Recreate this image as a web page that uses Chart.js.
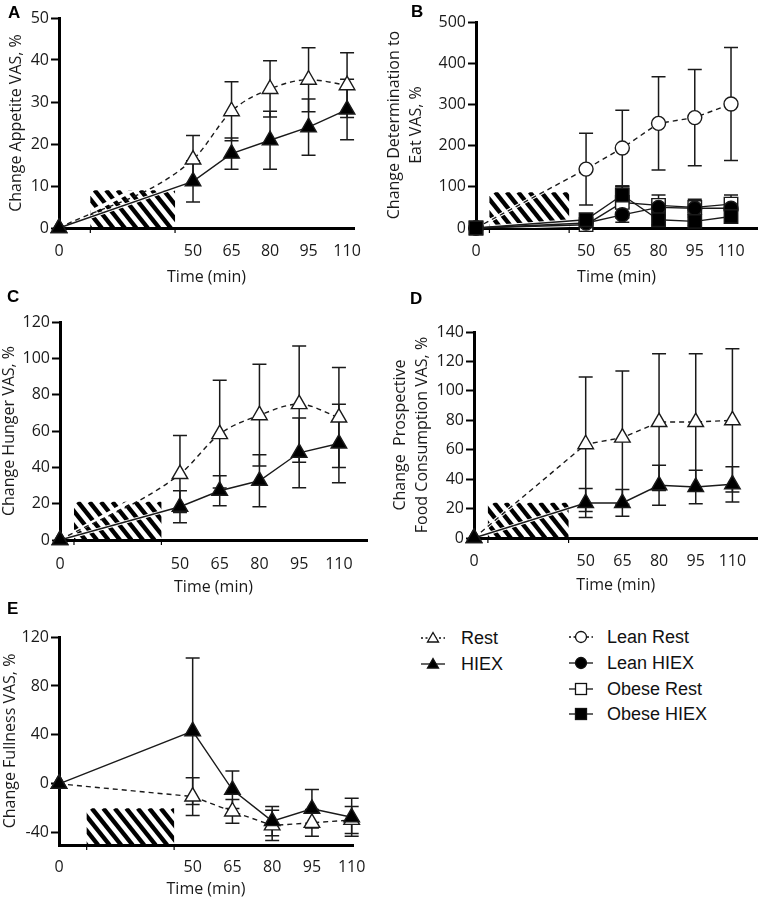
<!DOCTYPE html>
<html>
<head>
<meta charset="utf-8">
<script src="https://cdn.jsdelivr.net/npm/chart.js@4.4.1/dist/chart.umd.min.js"></script>
<style>
  body { margin: 0; background: #fff; }
  #page { position: relative; width: 768px; height: 900px; overflow: hidden; background: #fff; }
  canvas { position: absolute; }
  .letter { position: absolute; font: bold 17px "Liberation Sans", Arial, sans-serif; line-height: 1; color: #000; }
  .lg { position: absolute; height: 20px; font: 18px "Liberation Sans", Arial, sans-serif; line-height: 20px; color: #111; white-space: nowrap; }
  .lg svg { position: absolute; left: 0; top: 0; }
  .lg span { position: absolute; top: 0; }
</style>
</head>
<body>
<div id="page">
  <canvas id="cA" width="384" height="290" style="left:0;top:0"></canvas>
  <canvas id="cB" width="384" height="290" style="left:384px;top:0"></canvas>
  <canvas id="cC" width="384" height="310" style="left:0;top:290px"></canvas>
  <canvas id="cD" width="384" height="310" style="left:384px;top:290px"></canvas>
  <canvas id="cE" width="384" height="300" style="left:0;top:600px"></canvas>

  <div class="letter" style="left:8px;top:4px">A</div>
  <div class="letter" style="left:411px;top:3px">B</div>
  <div class="letter" style="left:7px;top:288px">C</div>
  <div class="letter" style="left:410px;top:290px">D</div>
  <div class="letter" style="left:7px;top:600px">E</div>

  <div id="legend"></div>
</div>

<script>
// sampling times (min)
const times = [0, 50, 65, 80, 95, 110];
// exercise period shown by the hatched box (min)
const exercise = [10, 43];

// A - appetite
const appetiteTicks = [0, 10, 20, 30, 40, 50];
const appetiteRest = [0, 16.3, 27.8, 33.1, 35.3, 34.0];
const appetiteRestErr = [0, 5.7, 7.0, 6.7, 7.6, 7.7];
const appetiteHiex = [0, 11.1, 17.7, 20.9, 24.0, 28.2];
const appetiteHiexErr = [0, 4.9, 3.7, 6.9, 6.7, 7.2];

// B - determination to eat
const determinationTicks = [0, 100, 200, 300, 400, 500];
const leanRest = [0, 143, 194, 254, 268, 301];
const leanRestErr = [0, 87, 92, 113, 117, 137];
const leanHiex = [0, 12, 32, 50, 48, 48];
const leanHiexErr = [0, 6, 18, 12, 10, 10];
const obeseRest = [0, 8, 62, 55, 50, 58];
const obeseRestErr = [0, 5, 38, 25, 20, 22];
const obeseHiex = [0, 20, 80, 20, 16, 28];
const obeseHiexErr = [0, 10, 22, 12, 10, 15];

// C - hunger
const hungerTicks = [0, 20, 40, 60, 80, 100, 120];
const hungerRest = [0, 36.3, 58.3, 68.7, 74.8, 67.4];
const hungerRestErr = [0, 21.2, 29.7, 28.0, 32.0, 27.5];
const hungerHiex = [0, 18.3, 27.1, 32.6, 48.0, 53.1];
const hungerHiexErr = [0, 8.8, 8.2, 14.3, 19.2, 21.6];

// D - prospective food consumption
const prospectiveTicks = [0, 20, 40, 60, 80, 100, 120, 140];
const prospectiveRest = [0, 63.7, 68.2, 78.8, 78.8, 80.0];
const prospectiveRestErr = [0, 45.7, 45.3, 46.5, 46.5, 48.7];
const prospectiveHiex = [0, 23.8, 23.8, 35.8, 34.7, 36.5];
const prospectiveHiexErr = [0, 9.8, 9.1, 13.6, 11.4, 12.0];

// E - fullness
const fullnessTicks = [-40, 0, 40, 80, 120];
const fullnessRest = [0, -10.4, -22.6, -34.0, -31.9, -29.5];
const fullnessRestErr = [0, 15.4, 9.7, 12.3, 10.9, 11.0];
const fullnessHiex = [0, 43.0, -4.9, -30.5, -20.4, -27.3];
const fullnessHiexErr = [0, 59.8, 15.3, 12.0, 15.8, 15.5];

const INK = '#1a1a1a';
const FONT = { family: 'Open Sans', size: 16 };

// x axis of the original is not quite linear between 0 and 50, gap shifts the later times
class GapScale extends Chart.LinearScale {
  getPixelForValue(value) {
    if (value === null || value === undefined) return NaN;
    const gap = this.options.gap || 0;
    const range = this.max - this.min + gap;
    const d = value <= this.min ? (value - this.min) / range : (value - this.min + gap) / range;
    return this.getPixelForDecimal(d);
  }
}
GapScale.id = 'gapLinear';
GapScale.defaults = Chart.LinearScale.defaults;
Chart.register(GapScale);

const hatchPlugin = {
  id: 'hatch',
  beforeDatasetsDraw(chart, args, opts) {
    const { ctx, scales: { x, y } } = chart;
    const x0 = x.getPixelForValue(opts.from), x1 = x.getPixelForValue(opts.to);
    const y0 = y.getPixelForValue(opts.top), y1 = y.getPixelForValue(y.min);
    ctx.save();
    ctx.strokeStyle = '#000';
    ctx.lineWidth = 1.2;
    [x0, x1].forEach(px => {
      ctx.beginPath(); ctx.moveTo(px, y1); ctx.lineTo(px, y1 + 5); ctx.stroke();
    });
    ctx.beginPath();
    ctx.rect(x0, y0, x1 - x0, y1 - y0);
    ctx.clip();
    ctx.lineWidth = 4.4;
    const h = y1 - y0, run = h / 1.25;
    for (let sx = x0 - run; sx < x1 + 6; sx += 11.5) {
      ctx.beginPath(); ctx.moveTo(sx, y0); ctx.lineTo(sx + run, y1); ctx.stroke();
    }
    // thin white gap where the data lines cross the stripes
    ctx.strokeStyle = '#fff';
    ctx.lineWidth = 3.4;
    chart.data.datasets.forEach((ds, i) => {
      const pts = chart.getDatasetMeta(i).data;
      if (pts.length < 2) return;
      ctx.beginPath(); ctx.moveTo(pts[0].x, pts[0].y); ctx.lineTo(pts[1].x, pts[1].y); ctx.stroke();
    });
    ctx.restore();
  }
};

const errorBarPlugin = {
  id: 'errorBars',
  beforeDatasetsDraw(chart) {
    const { ctx, scales: { y } } = chart;
    ctx.save();
    ctx.strokeStyle = INK;
    ctx.lineWidth = 1.5;
    chart.data.datasets.forEach((ds, i) => {
      if (!ds.errors) return;
      chart.getDatasetMeta(i).data.forEach((pt, j) => {
        const e = ds.errors[j];
        if (!e) return;
        const v = ds.data[j].y;
        const top = y.getPixelForValue(v + e), bot = y.getPixelForValue(v - e);
        ctx.beginPath();
        ctx.moveTo(pt.x, top); ctx.lineTo(pt.x, bot);
        ctx.moveTo(pt.x - 7, top); ctx.lineTo(pt.x + 7, top);
        ctx.moveTo(pt.x - 7, bot); ctx.lineTo(pt.x + 7, bot);
        ctx.stroke();
      });
    });
    ctx.restore();
  }
};

function series(values, errors, style) {
  return Object.assign({
    data: times.map((t, i) => ({ x: t, y: values[i] })),
    errors: errors,
    borderColor: INK,
    borderWidth: 1.4,
    pointBorderColor: INK,
    pointBorderWidth: 1.4,
    clip: false
  }, style);
}

const restStyle = { borderDash: [5, 4], pointStyle: 'triangle', pointRadius: 9, pointBackgroundColor: '#fff' };
const hiexStyle = { pointStyle: 'triangle', pointRadius: 9, pointBackgroundColor: '#000' };

function makePanel(p) {
  new Chart(document.getElementById(p.id), {
    type: 'line',
    data: { datasets: p.datasets },
    options: {
      responsive: false,
      animation: false,
      devicePixelRatio: 1,
      events: [],
      layout: { padding: { top: p.padTop, right: p.padRight, left: 0, bottom: 0 } },
      plugins: {
        legend: { display: false },
        tooltip: { enabled: false },
        hatch: { from: exercise[0], to: exercise[1], top: p.hatchTop }
      },
      scales: {
        x: {
          type: 'gapLinear',
          gap: p.gap,
          min: 0,
          max: p.xMax,
          afterBuildTicks: s => { s.ticks = times.map(v => ({ value: v })); },
          afterFit: s => { s.height = p.xHeight; },
          grid: { display: false, drawTicks: false },
          border: { display: true, color: '#000', width: 3 },
          ticks: { color: INK, font: FONT, padding: p.xTickPad, autoSkip: false, maxRotation: 0 },
          title: { display: true, text: 'Time (min)', color: INK, font: FONT, padding: { top: 0, bottom: p.xTitlePad } }
        },
        y: {
          type: 'linear',
          min: p.yMin,
          max: p.yMax,
          afterBuildTicks: s => { s.ticks = p.yTicks.map(v => ({ value: v })); },
          afterFit: s => { s.width = p.yWidth; },
          grid: { drawOnChartArea: false, drawTicks: true, tickLength: 8, tickWidth: 2, tickColor: '#000' },
          border: { display: true, color: '#000', width: 3 },
          ticks: { color: INK, font: FONT, padding: 2 },
          title: {
            display: true, text: p.yTitle, color: INK,
            font: { family: 'Open Sans', size: 16, lineHeight: p.yTitleLH },
            padding: { top: p.yTitlePad, bottom: 0 }
          }
        }
      }
    },
    plugins: [hatchPlugin, errorBarPlugin]
  });
}

makePanel({
  id: 'cA', padTop: 18, padRight: 30, yWidth: 59, xHeight: 62, gap: 2.2, xMax: 112.7,
  yMin: 0, yMax: 50, yTicks: appetiteTicks, hatchTop: 9, xTickPad: 14, xTitlePad: 3.4,
  yTitle: 'Change Appetite VAS, %', yTitleLH: 1.2, yTitlePad: 6.4,
  datasets: [
    series(appetiteHiex, appetiteHiexErr, hiexStyle),
    series(appetiteRest, appetiteRestErr, Object.assign({ cubicInterpolationMode: 'monotone' }, restStyle))
  ]
});

makePanel({
  id: 'cB', padTop: 22, padRight: 2, yWidth: 92, xHeight: 62, gap: -4.44, xMax: 120.8,
  yMin: 0, yMax: 500, yTicks: determinationTicks, hatchTop: 87, xTickPad: 14, xTitlePad: 3.4,
  yTitle: ['Change Determination to', 'Eat VAS, %'], yTitleLH: 1.35, yTitlePad: 0,
  datasets: [
    series(obeseHiex, obeseHiexErr, { pointStyle: 'rect', pointRadius: 9.5, pointBackgroundColor: '#000' }),
    series(leanHiex, leanHiexErr, { pointStyle: 'circle', pointRadius: 7, pointBackgroundColor: '#000' }),
    series(obeseRest, obeseRestErr, { pointStyle: 'rect', pointRadius: 9.5, pointBackgroundColor: '#fff' }),
    series(leanRest, leanRestErr, { borderDash: [5, 4], pointStyle: 'circle', pointRadius: 7, pointBackgroundColor: '#fff' })
  ]
});

makePanel({
  id: 'cC', padTop: 32, padRight: 17, yWidth: 60, xHeight: 60, gap: -4.72, xMax: 120.6,
  yMin: 0, yMax: 120, yTicks: hungerTicks, hatchTop: 21, xTickPad: 15, xTitlePad: 3.4,
  yTitle: 'Change Hunger VAS, %', yTitleLH: 1.2, yTitlePad: 0,
  datasets: [
    series(hungerHiex, hungerHiexErr, hiexStyle),
    series(hungerRest, hungerRestErr, Object.assign({ cubicInterpolationMode: 'monotone' }, restStyle))
  ]
});

makePanel({
  id: 'cD', padTop: 42, padRight: 2, yWidth: 90, xHeight: 62, gap: -4.32, xMax: 120.3,
  yMin: 0, yMax: 140, yTicks: prospectiveTicks, hatchTop: 24, xTickPad: 14, xTitlePad: 5.4,
  yTitle: ['Change  Prospective', 'Food Consumption VAS, %'], yTitleLH: 1.375, yTitlePad: 5,
  datasets: [
    series(prospectiveHiex, prospectiveHiexErr, hiexStyle),
    series(prospectiveRest, prospectiveRestErr, restStyle)
  ]
});

makePanel({
  id: 'cE', padTop: 37, padRight: 31, yWidth: 59, xHeight: 55, gap: 0.44, xMax: 110.5,
  yMin: -50, yMax: 120, yTicks: fullnessTicks, hatchTop: -20, xTickPad: 12.5, xTitlePad: 1.4,
  yTitle: 'Change Fullness VAS, %', yTitleLH: 1.2, yTitlePad: 0.4,
  datasets: [
    series(fullnessHiex, fullnessHiexErr, hiexStyle),
    series(fullnessRest, fullnessRestErr, restStyle)
  ]
});

// legend, two columns below panel D
const legendItems = [
  { label: 'Rest', x: 418, y: 628, dash: true, shape: 'tri', fill: '#fff' },
  { label: 'HIEX', x: 418, y: 654, dash: false, shape: 'tri', fill: '#000' },
  { label: 'Lean Rest', x: 566, y: 627, dash: true, shape: 'circ', fill: '#fff' },
  { label: 'Lean HIEX', x: 566, y: 653, dash: false, shape: 'circ', fill: '#000' },
  { label: 'Obese Rest', x: 566, y: 679, dash: false, shape: 'sq', fill: '#fff' },
  { label: 'Obese HIEX', x: 566, y: 704, dash: false, shape: 'sq', fill: '#000' }
];
const legend = document.getElementById('legend');
legendItems.forEach(it => {
  let shape;
  if (it.shape === 'tri') shape = '<polygon points="15,4.5 20.5,14 9.5,14" fill="' + it.fill + '" stroke="#111" stroke-width="1.3"/>';
  else if (it.shape === 'circ') shape = '<circle cx="15" cy="10" r="5.5" fill="' + it.fill + '" stroke="#111" stroke-width="1.3"/>';
  else shape = '<rect x="9.5" y="4.5" width="11" height="11" fill="' + it.fill + '" stroke="#111" stroke-width="1.3"/>';
  const dash = it.dash ? ' stroke-dasharray="2,2.5"' : '';
  const div = document.createElement('div');
  div.className = 'lg';
  div.style.left = it.x + 'px';
  div.style.top = it.y + 'px';
  div.innerHTML = '<svg width="30" height="20"><line x1="3" y1="10" x2="27" y2="10" stroke="#111" stroke-width="1.3"' + dash + '/>' + shape + '</svg>' +
    '<span style="left:' + (it.shape === 'tri' ? 43 : 41) + 'px">' + it.label + '</span>';
  legend.appendChild(div);
});
</script>
</body>
</html>
